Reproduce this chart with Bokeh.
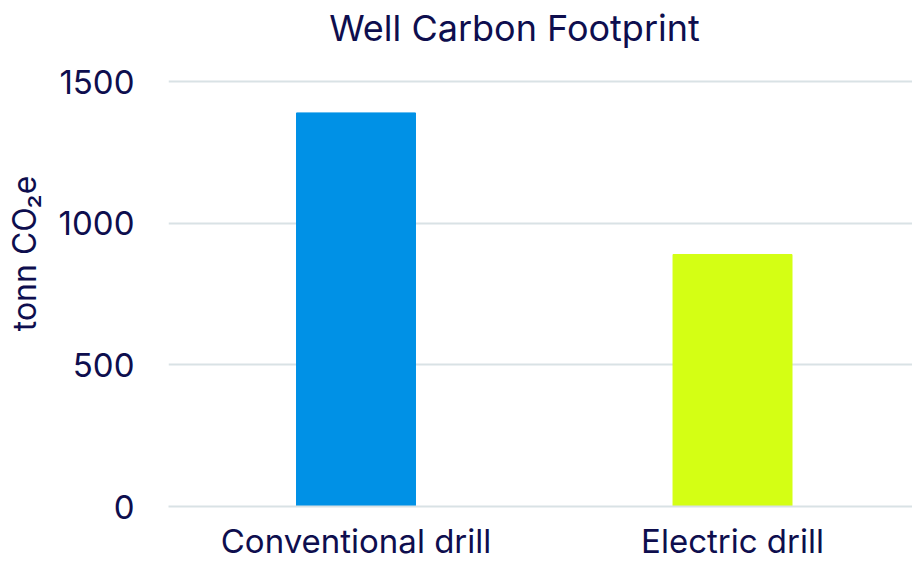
from bokeh.plotting import figure
from bokeh.models import ColumnDataSource, Range1d, FixedTicker, Label
from bokeh.embed import file_html
from bokeh.resources import INLINE

title_text = "Well Carbon Footprint"
y_label = "tonn CO₂e"
categories = ["Conventional drill", "Electric drill"]
values = [1390, 890]
colors = ["#0091E6", "#D4FF14"]
y_ticks = [0, 500, 1000, 1500]

TEXT = "#0E0E4E"
GRID = "#D9E2E5"
FONT = "Inter"

W, H = 912, 563
LEFT, BOTTOM = 168, 55
X0, X1 = -0.498, 1.478
Y1 = 1787  # headroom above 1500 holds the title

xs = list(range(len(categories)))
src = ColumnDataSource(dict(x=xs, top=values, color=colors))

p = figure(width=W, height=H, output_backend="svg", toolbar_location=None,
           x_range=Range1d(X0, X1), y_range=Range1d(0, Y1),
           min_border_left=LEFT, min_border_right=0, min_border_top=0,
           min_border_bottom=BOTTOM)
p.vbar(x="x", top="top", width=0.316, color="color", source=src)

p.outline_line_color = None
p.background_fill_color = "white"
p.border_fill_color = "white"

# title, inside the headroom of the frame
frame_w = W - LEFT
frame_h = H - BOTTOM
tx = X0 + (514 - LEFT) / frame_w * (X1 - X0)
ty = (frame_h - 28) / frame_h * Y1
p.add_layout(Label(x=tx, y=ty, text=title_text, text_align="center",
                   text_baseline="middle", text_font=FONT,
                   text_font_size="36px", text_color=TEXT))

p.xaxis.ticker = FixedTicker(ticks=xs)
p.xaxis.major_label_overrides = {i: c for i, c in enumerate(categories)}
p.xaxis.major_tick_line_color = None
p.xaxis.minor_tick_line_color = None
p.xaxis.axis_line_color = GRID
p.xaxis.axis_line_width = 2
p.xaxis.major_label_text_font = FONT
p.xaxis.major_label_text_font_size = "33px"
p.xaxis.major_label_text_line_height = 0.9
p.xaxis.major_label_text_color = TEXT
p.xaxis.major_label_standoff = 8
p.xgrid.grid_line_color = None

p.yaxis.ticker = FixedTicker(ticks=y_ticks)
p.yaxis.axis_line_color = None
p.yaxis.major_tick_line_color = None
p.yaxis.minor_tick_line_color = None
p.yaxis.major_label_text_font = FONT
p.yaxis.major_label_text_font_size = "33px"
p.yaxis.major_label_text_color = TEXT
p.yaxis.major_label_standoff = 28
p.yaxis.axis_label = y_label
p.yaxis.axis_label_text_font = FONT
p.yaxis.axis_label_text_font_size = "32px"
p.yaxis.axis_label_text_font_style = "normal"
p.yaxis.axis_label_text_color = TEXT
p.yaxis.axis_label_standoff = 12
p.ygrid.grid_line_color = GRID
p.ygrid.grid_line_width = 2

open("out.html", "w").write(file_html(p, INLINE))
